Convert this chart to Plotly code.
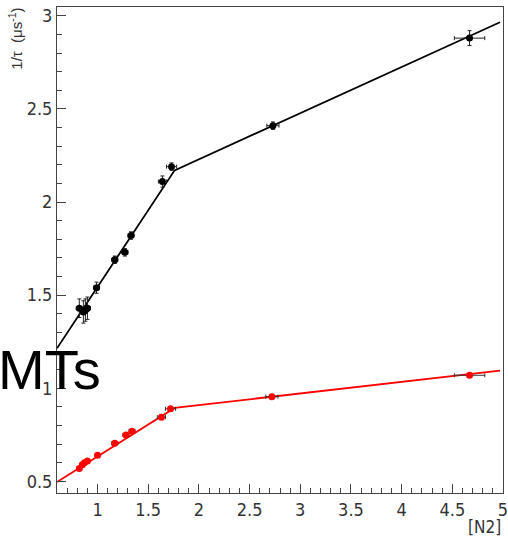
import plotly.graph_objects as go

# data
black_x = [0.82, 0.86, 0.88, 0.90, 0.99, 1.17, 1.27, 1.33, 1.64, 1.73, 2.73, 4.67]
black_y = [1.43, 1.41, 1.42, 1.43, 1.54, 1.69, 1.73, 1.82, 2.11, 2.19, 2.41, 2.88]
black_ex = [0.03, 0.03, 0.03, 0.03, 0.03, 0.03, 0.03, 0.03, 0.04, 0.05, 0.06, 0.15]
black_ey = [0.05, 0.06, 0.06, 0.06, 0.03, 0.02, 0.02, 0.02, 0.03, 0.02, 0.02, 0.04]

red_x = [0.82, 0.85, 0.87, 0.90, 1.00, 1.17, 1.28, 1.34, 1.63, 1.72, 2.72, 4.67]
red_y = [0.57, 0.59, 0.60, 0.61, 0.64, 0.705, 0.75, 0.77, 0.845, 0.89, 0.955, 1.07]
red_ex = [0.02, 0.02, 0.02, 0.02, 0.02, 0.03, 0.03, 0.03, 0.04, 0.05, 0.06, 0.15]
red_ey = [0.01, 0.01, 0.01, 0.01, 0.01, 0.01, 0.01, 0.01, 0.01, 0.01, 0.01, 0.01]

# piecewise linear fits (break points)
fit_x = [0.6, 1.76, 4.97]
fit_black = [1.215, 2.17, 2.965]
fit_red = [0.497, 0.895, 1.095]

x_range = [0.6, 5.0]
y_range = [0.438, 3.047]

x_ticks = [1, 1.5, 2, 2.5, 3, 3.5, 4, 4.5, 5]
x_ticklabels = ["1", "1.5", "2", "2.5", "3", "3.5", "4", "4.5", "5"]
y_ticks = [0.5, 1, 1.5, 2, 2.5, 3]
y_ticklabels = ["0.5", "1", "1.5", "2", "2.5", "3"]

fig = go.Figure()

fig.add_trace(go.Scatter(x=fit_x, y=fit_black, mode="lines",
                         line=dict(color="black", width=1.8), hoverinfo="skip"))
fig.add_trace(go.Scatter(x=fit_x, y=fit_red, mode="lines",
                         line=dict(color="#ff0000", width=1.8), hoverinfo="skip"))

fig.add_trace(go.Scatter(
    x=black_x, y=black_y, mode="markers",
    marker=dict(color="black", size=7),
    error_x=dict(type="data", array=black_ex, color="#222", thickness=1, width=2),
    error_y=dict(type="data", array=black_ey, color="#222", thickness=1, width=2),
))
fig.add_trace(go.Scatter(
    x=red_x, y=red_y, mode="markers",
    marker=dict(color="#ff0000", size=7),
    error_x=dict(type="data", array=red_ex, color="#333", thickness=1, width=2),
    error_y=dict(type="data", array=red_ey, color="#333", thickness=1, width=2),
))

font_fam = "Liberation Sans Narrow, DejaVu Sans Condensed, Liberation Sans, Arial, sans-serif"
axis_common = dict(
    showgrid=False, zeroline=False, showline=True, mirror=True, automargin=False,
    linecolor="#444", linewidth=1, ticks="inside", ticklen=9, tickwidth=1,
    tickcolor="#444", tickfont=dict(family=font_fam, size=18, color="#333"),
    ticklabeloverflow="allow",
)

fig.update_xaxes(range=x_range, tickvals=x_ticks, ticktext=x_ticklabels,
                 minor=dict(ticks="inside", ticklen=5, dtick=0.1, tick0=0, tickcolor="#444"),
                 **axis_common)
fig.update_yaxes(range=y_range, tickvals=y_ticks, ticktext=y_ticklabels,
                 minor=dict(ticks="inside", ticklen=5, dtick=0.1, tick0=0, tickcolor="#444"),
                 **axis_common)

fig.update_layout(
    width=508, height=539,
    margin=dict(l=57, r=5, t=7, b=46),
    plot_bgcolor="white", paper_bgcolor="white",
    showlegend=False,
    annotations=[
        dict(text="1/τ  (μs<sup>-1</sup>)", xref="paper", yref="paper",
             x=-0.095, y=1.002, xanchor="center", yanchor="top", textangle=-90,
             showarrow=False, font=dict(family="Liberation Sans, Arial, sans-serif", size=15, color="#333")),
        dict(text="[N2]", xref="paper", yref="paper", x=1.0, y=-0.07,
             xanchor="right", yanchor="middle", showarrow=False,
             font=dict(family=font_fam, size=17, color="#333")),
        dict(text="MTs", xref="paper", yref="paper", x=-0.128, y=0.255,
             xanchor="left", yanchor="middle", xshift=-4, showarrow=False,
             font=dict(family="Liberation Sans, Arial, sans-serif", size=56, color="black")),
    ],
)

fig.write_html("out.html")
